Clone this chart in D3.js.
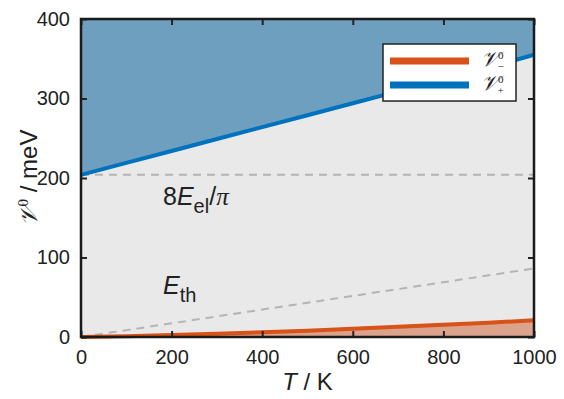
<!DOCTYPE html>
<html>
<head>
<meta charset="utf-8">
<script src="https://cdn.jsdelivr.net/npm/d3@7"></script>
<style>
  body { margin: 0; background: #fff; }
  text { font-family: "Liberation Sans", Arial, sans-serif; fill: #222; }
</style>
</head>
<body>
<div id="chart"></div>
<script>
// temperatures (K) and energies (meV)
var temps = [0, 100, 200, 300, 400, 500, 600, 700, 800, 900, 1000];
var vPlus = [204, 219, 234, 249, 264, 279, 294, 309, 324, 339, 355];
var vMinus = [0, 1, 2.5, 4, 6, 8, 10.5, 13, 15.5, 18, 21];
var eTh = [0, 8.6, 17.2, 25.9, 34.5, 43.1, 51.7, 60.3, 68.9, 77.6, 86.2];
var eEl8 = 204;
var xTicks = [0, 200, 400, 600, 800, 1000];
var yTicks = [0, 100, 200, 300, 400];

var W = 564, H = 399;
var margin = { left: 81, right: 30, top: 19, bottom: 62 };

var svg = d3.select("#chart").append("svg")
	.attr("width", W).attr("height", H);

var x = d3.scaleLinear().domain([0, 1000]).range([margin.left, W - margin.right]);
var y = d3.scaleLinear().domain([0, 400]).range([H - margin.bottom, margin.top]);

var rows = temps.map(function(t, i) {
	return { t: t, plus: vPlus[i], minus: vMinus[i], th: eTh[i] };
});

// background of the plot box
svg.append("rect")
	.attr("x", x(0)).attr("y", y(400))
	.attr("width", x(1000) - x(0)).attr("height", y(0) - y(400))
	.attr("fill", "#e9e9e9");

// region above V+
svg.append("path")
	.datum(rows)
	.attr("fill", "#6f9fbf")
	.attr("d", d3.area().x(d => x(d.t)).y0(y(400)).y1(d => y(d.plus)));

// region under V-
svg.append("path")
	.datum(rows)
	.attr("fill", "#dba38c")
	.attr("d", d3.area().x(d => x(d.t)).y0(y(0)).y1(d => y(d.minus)));

// dashed guides
svg.append("line")
	.attr("x1", x(0)).attr("x2", x(1000))
	.attr("y1", y(eEl8)).attr("y2", y(eEl8))
	.attr("stroke", "#b4b4b4").attr("stroke-width", 2)
	.attr("stroke-dasharray", "8,6");

svg.append("path")
	.datum(rows)
	.attr("fill", "none")
	.attr("stroke", "#b4b4b4").attr("stroke-width", 2)
	.attr("stroke-dasharray", "8,6")
	.attr("d", d3.line().x(d => x(d.t)).y(d => y(d.th)));

// V+ and V- curves
svg.append("path")
	.datum(rows)
	.attr("fill", "none")
	.attr("stroke", "#0072bd").attr("stroke-width", 4)
	.attr("d", d3.line().x(d => x(d.t)).y(d => y(d.plus)));

svg.append("path")
	.datum(rows)
	.attr("fill", "none")
	.attr("stroke", "#d95319").attr("stroke-width", 4)
	.attr("d", d3.line().x(d => x(d.t)).y(d => y(d.minus)));

// axes, ticks inward, on all four sides
var fs = "20px";
var axB = svg.append("g").attr("transform", "translate(0," + y(0) + ")")
	.call(d3.axisBottom(x).tickValues(xTicks).tickFormat(d3.format("d")).tickSizeInner(-6).tickSizeOuter(0).tickPadding(13));
var axT = svg.append("g").attr("transform", "translate(0," + y(400) + ")")
	.call(d3.axisTop(x).tickValues(xTicks).tickSizeInner(-6).tickSizeOuter(0).tickFormat(""));
var axL = svg.append("g").attr("transform", "translate(" + x(0) + ",0)")
	.call(d3.axisLeft(y).tickValues(yTicks).tickSizeInner(-6).tickSizeOuter(0).tickPadding(11));
var axR = svg.append("g").attr("transform", "translate(" + x(1000) + ",0)")
	.call(d3.axisRight(y).tickValues(yTicks).tickSizeInner(-6).tickSizeOuter(0).tickFormat(""));

[axB, axT, axL, axR].forEach(function(a) {
	a.select(".domain").remove();
	a.selectAll(".tick line").attr("stroke", "#222").attr("stroke-width", 2);
	a.selectAll(".tick text").style("font-size", fs).style("font-family", "Liberation Sans, Arial, sans-serif").attr("fill", "#222");
});

svg.append("rect")
	.attr("x", x(0)).attr("y", y(400))
	.attr("width", x(1000) - x(0)).attr("height", y(0) - y(400))
	.attr("fill", "none").attr("stroke", "#1a1a1a").attr("stroke-width", 2.5);

// axis titles
var xl = svg.append("text")
	.attr("x", (x(0) + x(1000)) / 2).attr("y", 390)
	.attr("text-anchor", "middle").style("font-size", "24px");
xl.append("tspan").style("font-style", "italic").text("T");
xl.append("tspan").text(" / K");

var yl = svg.append("text")
	.attr("transform", "translate(37," + ((y(0) + y(400)) / 2) + ") rotate(-90)")
	.attr("text-anchor", "middle").style("font-size", "24px");
yl.append("tspan").style("font-family", "Liberation Serif, serif").style("font-style", "italic").text("𝒱");
yl.append("tspan").attr("dy", -9).style("font-size", "15px").style("font-family", "Liberation Serif, serif").text("0");
yl.append("tspan").attr("dy", 9).text(" / meV");

// curve annotations
var t1 = svg.append("text").attr("x", 163).attr("y", 205).style("font-size", "25px");
t1.append("tspan").text("8");
t1.append("tspan").style("font-style", "italic").text("E");
t1.append("tspan").attr("dy", 8).style("font-size", "20px").text("el");
t1.append("tspan").attr("dy", -8).text("/");
t1.append("tspan").style("font-family", "Liberation Serif, serif").style("font-style", "italic").text("π");

var t2 = svg.append("text").attr("x", 163).attr("y", 294).style("font-size", "25px");
t2.append("tspan").style("font-style", "italic").text("E");
t2.append("tspan").attr("dy", 8).style("font-size", "20px").text("th");

// legend
var lg = svg.append("g");
lg.append("rect")
	.attr("x", 383).attr("y", 44).attr("width", 133).attr("height", 57)
	.attr("fill", "#fff").attr("stroke", "#222").attr("stroke-width", 1.5);
var items = [{ c: "#d95319", s: "−" }, { c: "#0072bd", s: "+" }];
items.forEach(function(d, i) {
	var cy = 61 + i * 24;
	lg.append("line")
		.attr("x1", 390).attr("x2", 469).attr("y1", cy).attr("y2", cy)
		.attr("stroke", d.c).attr("stroke-width", 7);
	var t = lg.append("text").attr("x", 481).attr("y", cy + 5)
		.style("font-family", "Liberation Serif, serif").style("font-size", "21px");
	t.append("tspan").style("font-style", "italic").text("𝒱");
	t.append("tspan").attr("dy", -7).style("font-size", "11px").text("0");
	t.append("tspan").attr("dx", -6).attr("dy", 11).style("font-size", "11px").text(d.s);
});
</script>
</body>
</html>
